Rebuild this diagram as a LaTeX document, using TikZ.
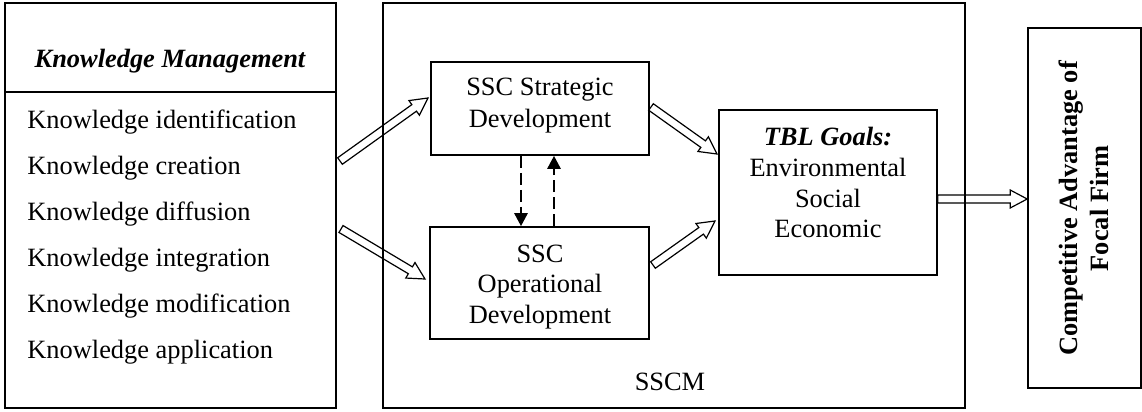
\documentclass[tikz,border=0pt]{standalone}
\usepackage{fontspec}
\setmainfont{Liberation Serif}
\usetikzlibrary{calc,arrows.meta}
\newcommand\hollowarrow[2]{%
  \coordinate (ha-h) at ($(#2)!8.5pt!(#1)$);
  \draw[harrow] ($(#1)!2pt!90:(#2)$) -- ($(ha-h)!2pt!90:(#2)$) -- ($(ha-h)!4.5pt!90:(#2)$) -- (#2)
    -- ($(ha-h)!4.5pt!-90:(#2)$) -- ($(ha-h)!2pt!-90:(#2)$) -- ($(#1)!2pt!-90:(#2)$) -- cycle;}
\begin{document}
\begin{tikzpicture}[x=0.5pt,y=-0.5pt,
  box/.style={draw, line width=0.8pt, inner sep=0pt},
  txt/.style={anchor=base, inner sep=0pt, font=\fontsize{13.2}{15}\selectfont},
  ltxt/.style={anchor=base west, inner sep=0pt, font=\fontsize{13.2}{15}\selectfont},
  harrow/.style={draw, line width=0.6pt, line join=miter},
  darrow/.style={line width=1.3pt, dash pattern=on 6pt off 2.5pt, -{Triangle[width=6.5pt,length=6.5pt]}}]
\useasboundingbox (0,0) rectangle (1142,412);

% boxes
\node[box, minimum width=165.5pt, minimum height=202.5pt] (km) at (170.5,205.5) {};
\draw[line width=0.8pt] (km.west |- 0,92) coordinate (kmdl) -- (km.east |- 0,92) coordinate (kmdr);
\node[box, minimum width=291pt, minimum height=202.5pt] (sscm) at (674,205.5) {};
\node[box, minimum width=109pt, minimum height=46.5pt] (strat) at (540,108.5) {};
\node[box, minimum width=109.5pt, minimum height=56pt] (op) at (539.5,283) {};
\node[box, minimum width=109pt, minimum height=82.5pt] (tbl) at (828,192.5) {};
\node[box, minimum width=56.5pt, minimum height=180pt] (caf) at (1084.5,208) {};

% left texts
\node[txt] (kmt) at (170,68) {\bfseries\itshape Knowledge Management};
\node[ltxt] (k1) at (27,128) {Knowledge identification};
\node[ltxt] (k2) at (27,174) {Knowledge creation};
\node[ltxt] (k3) at (27,220) {Knowledge diffusion};
\node[ltxt] (k4) at (27,266) {Knowledge integration};
\node[ltxt] (k5) at (27,312) {Knowledge modification};
\node[ltxt] (k6) at (27,358) {Knowledge application};

% strategic
\node[txt] (s1) at (540,95) {SSC Strategic};
\node[txt] (s2) at (540,127) {Development};
% operational
\node[txt] (o1) at (540,262) {SSC};
\node[txt] (o2) at (540,292.5) {Operational};
\node[txt] (o3) at (540,323) {Development};
% tbl
\node[txt] (t1) at (828,145) {\bfseries\itshape TBL Goals:};
\node[txt] (t2) at (828,176) {Environmental};
\node[txt] (t3) at (828,207) {Social};
\node[txt] (t4) at (828,237.5) {Economic};
% sscm label
\node[txt] (sl) at (670,390) {SSCM};
% right
\node[txt, rotate=90] (c1) at (1077,208.5) {\bfseries Competitive Advantage of};
\node[txt, rotate=90] (c2) at (1108,208.5) {\bfseries Focal Firm};

% hollow arrows
\coordinate (a1s) at (340,161);
\coordinate (a1e) at (428,98);
\coordinate (a2s) at (341,229);
\coordinate (a2e) at (425,279);
\coordinate (a3s) at (651,107);
\coordinate (a3e) at (717,154);
\coordinate (a4s) at (653,265);
\coordinate (a4e) at (715,221);
\coordinate (a5s) at (tbl.east |- 0,199);
\coordinate (a5e) at (caf.west |- 0,199);
\hollowarrow{a1s}{a1e}
\hollowarrow{a2s}{a2e}
\hollowarrow{a3s}{a3e}
\hollowarrow{a4s}{a4e}
\hollowarrow{a5s}{a5e}

% dashed arrows
\draw[darrow] ([xshift=-9.5pt]strat.south) -- ([xshift=-9.25pt]op.north);
\draw[darrow] ([xshift=7.25pt]op.north) -- ([xshift=7pt]strat.south);
\end{tikzpicture}
\end{document}
